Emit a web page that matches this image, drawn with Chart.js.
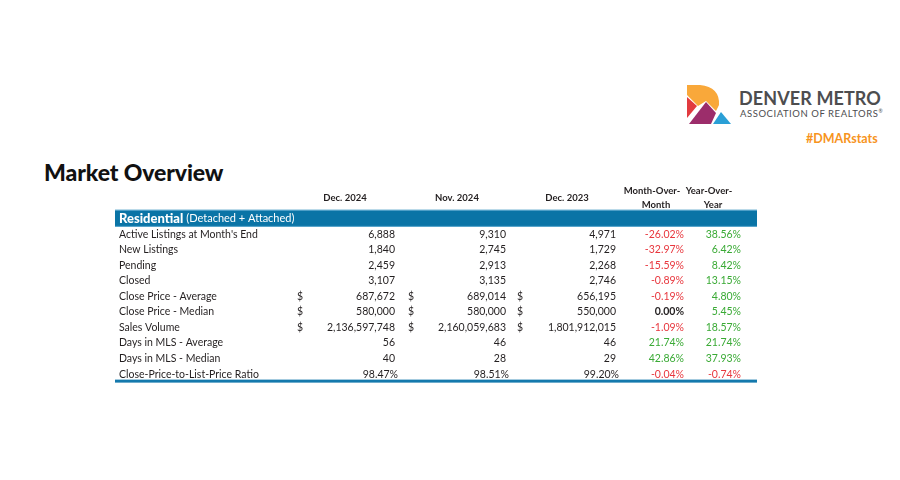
<!DOCTYPE html>
<html>
<head>
<meta charset="utf-8">
<title>Market Overview</title>
<script src="https://cdn.jsdelivr.net/npm/chart.js@4.4.1/dist/chart.umd.min.js"></script>
<style>
  html, body { margin: 0; padding: 0; background: #fff; }
  #wrap { position: relative; width: 900px; height: 480px; overflow: hidden; font-family: Lato, "Open Sans", sans-serif; }
  #tableBox { position: absolute; left: 0; top: 0; width: 900px; height: 480px; }
  .title { position: absolute; left: 44px; top: 158px; font-size: 23px; font-weight: 900; color: #111; letter-spacing: -0.1px; }
  .mark { position: absolute; left: 684px; top: 82px; }
  .brand1 { position: absolute; left: 739px; top: 87px; font-size: 18px; font-weight: 700; color: #4d4d4f; letter-spacing: 0.1px; }
  .brand2 { position: absolute; left: 740px; top: 108px; font-size: 9.5px; color: #4d4d4f; letter-spacing: 0.55px; }
  .tag { position: absolute; left: 806px; top: 131px; font-size: 12.5px; font-weight: 700; color: #f7941d; }
</style>
</head>
<body>
<div id="wrap">
  <div class="title">Market Overview</div>
  <svg class="mark" width="50" height="46" viewBox="684 82 50 46">
    <path d="M687,85 L700,85 Q720,87 719,105 L716,111 L706,101 L698,106 L687,95 Z" fill="#f9a83a"/>
    <path d="M687,97 L697,106 L687,118 Z" fill="#e23b3f"/>
    <path d="M689,124 L706,102 L716,113 L711,124 Z" fill="#9c2d6b"/>
    <path d="M713,124 L721,112 L731,124 Z" fill="#2a9fd6"/>
  </svg>
  <div class="brand1">DENVER METRO</div>
  <div class="brand2">ASSOCIATION OF REALTORS<sup style="font-size:5px">®</sup></div>
  <div class="tag">#DMARstats</div>
  <div id="tableBox"><canvas id="table"></canvas></div>
</div>
<script>
// ---- data ----
const metrics = [
  "Active Listings at Month's End",
  'New Listings',
  'Pending',
  'Closed',
  'Close Price - Average',
  'Close Price - Median',
  'Sales Volume',
  'Days in MLS - Average',
  'Days in MLS - Median',
  'Close-Price-to-List-Price Ratio'
];
const rowFormat = ['count', 'count', 'count', 'count', 'currency', 'currency', 'currency', 'count', 'count', 'percent'];
const headers = [['Dec. 2024'], ['Nov. 2024'], ['Dec. 2023'], ['Month-Over-', 'Month'], ['Year-Over-', 'Year']];
const dec2024 = [6888, 1840, 2459, 3107, 687672, 580000, 2136597748, 56, 40, 98.47];
const nov2024 = [9310, 2745, 2913, 3135, 689014, 580000, 2160059683, 46, 28, 98.51];
const dec2023 = [4971, 1729, 2268, 2746, 656195, 550000, 1801912015, 46, 29, 99.20];
const monthOverMonth = [-26.02, -32.97, -15.59, -0.89, -0.19, 0.00, -1.09, 21.74, 42.86, -0.04];
const yearOverYear = [38.56, 6.42, 8.42, 13.15, 4.80, 5.45, 18.57, 21.74, 37.93, -0.74];
const sectionTitle = 'Residential';
const sectionNote = '(Detached + Attached)';

// ---- layout (table units along x, row units along y) ----
const valueSeries = [dec2024, nov2024, dec2023, monthOverMonth, yearOverYear];
const labelAnchor = 4;
const valueAnchor = [280, 391, 501, 569, 626];
const headerAnchor = [230, 342, 452, 537, 594];
const dollarAnchor = [182, 293, 402];

const BLUE = '#0a74a6';
const RED = '#e8373e';
const GREEN = '#3aaa35';
const INK = '#231f20';

function fmt(v, kind) {
  if (kind === 'percent') return v.toFixed(2) + '%';
  return v.toLocaleString('en-US');
}

const tablePlugin = {
  id: 'marketTable',
  beforeDatasetsDraw(chart) {
    const { ctx, chartArea: a, scales: { y } } = chart;
    const top = y.getPixelForValue(-1.58);
    const bot = y.getPixelForValue(-0.48);
    ctx.save();
    ctx.fillStyle = BLUE;
    ctx.fillRect(a.left, top, a.right - a.left, bot - top);
    ctx.fillStyle = '#5fa9cf';
    ctx.fillRect(a.left, top, a.right - a.left, 1);
    ctx.fillRect(a.left, bot - 1, a.right - a.left, 1);
    // bottom rule
    const rule = y.getPixelForValue(9.45);
    ctx.fillStyle = '#1479ad';
    ctx.fillRect(a.left, rule - 1.5, a.right - a.left, 3);
    ctx.restore();
  },
  afterDatasetsDraw(chart) {
    const { ctx, scales: { x, y } } = chart;
    ctx.save();
    ctx.textBaseline = 'middle';

    // column headers
    ctx.fillStyle = INK;
    ctx.font = '700 9.5px Lato';
    ctx.textAlign = 'center';
    headers.forEach((lines, c) => {
      const px = x.getPixelForValue(headerAnchor[c]);
      if (lines.length === 1) {
        ctx.fillText(lines[0], px, y.getPixelForValue(-2.35));
      } else {
        ctx.fillText(lines[0], px, y.getPixelForValue(-2.81));
        ctx.fillText(lines[1], px + 4, y.getPixelForValue(-1.9));
      }
    });

    // section band text
    const by = y.getPixelForValue(-1.03);
    ctx.textAlign = 'left';
    ctx.fillStyle = '#fff';
    ctx.font = '900 13px Lato';
    const lx = x.getPixelForValue(labelAnchor);
    ctx.fillText(sectionTitle, lx, by);
    const w = ctx.measureText(sectionTitle).width;
    ctx.font = '400 11px Lato';
    ctx.fillText(sectionNote, lx + w + 3, by + 0.5);

    // metric labels
    const labelMeta = chart.getDatasetMeta(0);
    ctx.fillStyle = INK;
    ctx.font = '400 10.5px Lato';
    ctx.textAlign = 'left';
    metrics.forEach((m, i) => {
      const pt = labelMeta.data[i];
      ctx.fillText(m, pt.x, pt.y);
    });

    // values
    valueSeries.forEach((series, c) => {
      const meta = chart.getDatasetMeta(c + 1);
      series.forEach((v, i) => {
        const pt = meta.data[i];
        ctx.textAlign = 'right';
        if (c < 3) {
          ctx.fillStyle = INK;
          ctx.font = '400 10.5px Lato';
          const pad = rowFormat[i] === 'percent' ? 3 : 0;
          ctx.fillText(fmt(v, rowFormat[i]), pt.x + pad, pt.y);
          if (rowFormat[i] === 'currency') {
            ctx.textAlign = 'left';
            ctx.fillText('$', x.getPixelForValue(dollarAnchor[c]), pt.y);
          }
        } else {
          if (v < 0) { ctx.fillStyle = RED; ctx.font = '400 10.5px Lato'; }
          else if (v > 0) { ctx.fillStyle = GREEN; ctx.font = '400 10.5px Lato'; }
          else { ctx.fillStyle = INK; ctx.font = '700 10.5px Lato'; }
          ctx.fillText(v.toFixed(2) + '%', pt.x, pt.y);
        }
      });
    });
    ctx.restore();
  }
};

const datasets = [
  { label: 'Metric', data: metrics.map((m, i) => ({ x: labelAnchor, y: i })) }
].concat(valueSeries.map((series, c) => ({
  label: headers[c].join(''),
  data: series.map((v, i) => ({ x: valueAnchor[c], y: i }))
})));

new Chart(document.getElementById('table').getContext('2d'), {
  type: 'scatter',
  data: { datasets: datasets.map(d => Object.assign(d, { pointRadius: 0, pointHoverRadius: 0 })) },
  options: {
    responsive: true,
    maintainAspectRatio: false,
    animation: false,
    events: [],
    layout: { padding: { left: 115, right: 143, top: 180, bottom: 95 } },
    plugins: { legend: { display: false }, tooltip: { enabled: false }, title: { display: false } },
    scales: {
      x: { type: 'linear', display: false, min: 0, max: 642 },
      y: { type: 'linear', display: false, reverse: true, min: -3.5, max: 9.7 }
    }
  },
  plugins: [tablePlugin]
});
</script>
</body>
</html>
